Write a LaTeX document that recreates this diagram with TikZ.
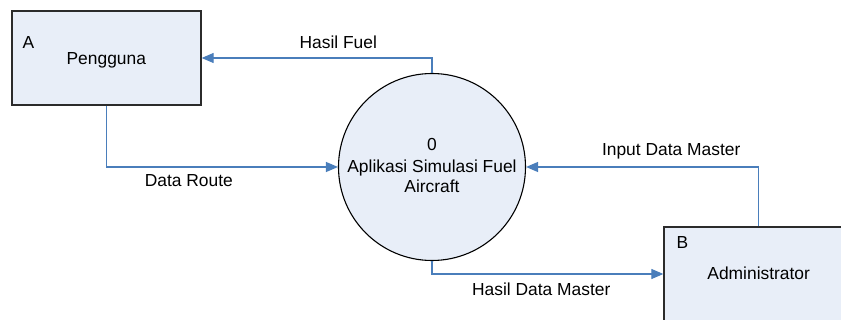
\documentclass[tikz,border=0pt]{standalone}
\usepackage{fontspec}
\setmainfont{Liberation Sans}
\usetikzlibrary{arrows.meta}

\definecolor{entityfill}{HTML}{E8EEF8}
\definecolor{flowblue}{HTML}{4A7EBB}
\definecolor{edgegray}{HTML}{2B2B2B}

\tikzset{
  entity/.style={draw=edgegray, line width=1.3pt, fill=entityfill,
    minimum width=189pt, minimum height=94pt, inner sep=0pt},
  process/.style={draw=black, line width=1.1pt, fill=entityfill,
    circle, minimum size=187pt, inner sep=0pt},
  flow/.style={draw=flowblue, line width=1.2pt,
    -{Triangle[length=12pt,width=10pt]}},
  txt/.style={inner sep=0pt, anchor=base,
    font=\fontsize{17.4pt}{21pt}\selectfont},
}

\begin{document}
\begin{tikzpicture}[x=1pt, y=-1pt]
  \useasboundingbox (0,0) rectangle (841,320);

  % external entities and the process
  \node[entity] (pengguna) at (106.5,58) {};
  \node[entity] (admin) at (758.5,274) {};
  \node[process] (proses) at (432,167) {};

  % entity and process texts
  \node[txt, anchor=base west] (idA) at (22.5,48.7) {A};
  \node[txt] (namaA) at (106.3,64.3) {Pengguna};
  \node[txt, anchor=base west] (idB) at (676.5,248.3) {B};
  \node[txt] (namaB) at (758.7,280) {Administrator};
  \node[txt] (nomor) at (432,151) {0};
  \node[txt] (judul1) at (432,172.3) {Aplikasi Simulasi Fuel};
  \node[txt] (judul2) at (432,192.7) {Aircraft};

  % data flows
  \draw[flow] (proses.north) |- (pengguna.east);
  \draw[flow] (pengguna.south) |- (proses.west);
  \draw[flow] (admin.north) |- (proses.east);
  \draw[flow] (proses.south) |- (admin.west);

  % flow labels
  \node[txt] (lblFuel) at (338.3,48.3) {Hasil Fuel};
  \node[txt] (lblRoute) at (188.8,186.7) {Data Route};
  \node[txt] (lblInput) at (671.2,156) {Input Data Master};
  \node[txt] (lblHasil) at (541.2,295.7) {Hasil Data Master};
\end{tikzpicture}
\end{document}
